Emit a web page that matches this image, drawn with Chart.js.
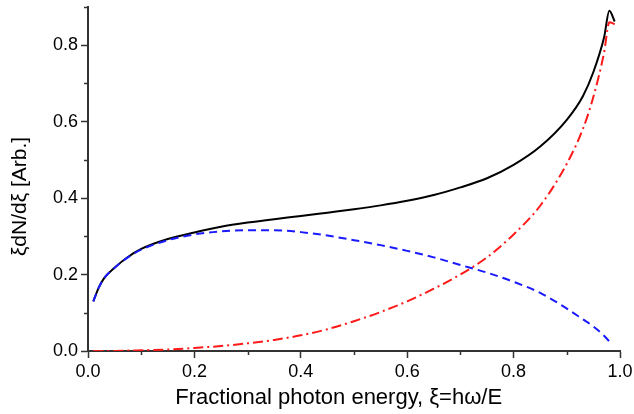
<!DOCTYPE html>
<html>
<head>
<meta charset="utf-8">
<script src="https://cdn.jsdelivr.net/npm/chart.js@4/dist/chart.umd.min.js"></script>
<style>
  html, body { margin: 0; padding: 0; background: #fff; }
  #wrap { width: 634px; height: 414px; }
</style>
</head>
<body>
<div id="wrap"><canvas id="spec"></canvas></div>
<script>
// photon energy fraction (x) and the three curves
const xi = [0.01, 0.02, 0.03, 0.05, 0.075, 0.1, 0.15, 0.2, 0.25, 0.3, 0.35, 0.4, 0.45, 0.5,
  0.55, 0.6, 0.65, 0.7, 0.75, 0.8, 0.85, 0.9, 0.93, 0.95, 0.97, 0.98, 0.99];
const totalVals = [0.13, 0.165, 0.19, 0.218, 0.246, 0.267, 0.293, 0.31, 0.325, 0.336, 0.345,
  0.353, 0.362, 0.371, 0.381, 0.393, 0.408, 0.428, 0.452, 0.487, 0.535, 0.605, 0.666, 0.73,
  0.82, 0.89, 0.862];
const blueVals = [0.13, 0.165, 0.19, 0.218, 0.245, 0.265, 0.29, 0.305, 0.313, 0.316, 0.316,
  0.311, 0.302, 0.29, 0.277, 0.262, 0.245, 0.225, 0.205, 0.181, 0.152, 0.111, 0.083, 0.064,
  0.04, 0.025, null];
const redVals = [0, 0, 0, 0.0003, 0.001, 0.002, 0.004, 0.008, 0.013, 0.02, 0.029, 0.041,
  0.057, 0.078, 0.102, 0.13, 0.163, 0.2, 0.245, 0.305, 0.38, 0.49, 0.58, 0.665, 0.78, 0.86, 0.855];

const xMinor = [0.1, 0.3, 0.5, 0.7, 0.9];
const yMinor = [0.1, 0.3, 0.5, 0.7, 0.9];

function pts(vals) {
  return xi.map((x, i) => ({ x: x, y: vals[i] }));
}

const axisColor = "#333333";

// Chart.js has no minor ticks, so draw the short ones from the scales
const minorTicks = {
  id: "minorTicks",
  afterDraw(chart) {
    const ctx = chart.ctx;
    const xs = chart.scales.x, ys = chart.scales.y;
    ctx.save();
    ctx.strokeStyle = axisColor;
    ctx.lineWidth = 1.5;
    ctx.beginPath();
    for (let v of xMinor) {
      const px = Math.round(xs.getPixelForValue(v)) + 0.5;
      ctx.moveTo(px, ys.bottom);
      ctx.lineTo(px, ys.bottom + 4);
    }
    for (let v of yMinor) {
      const py = Math.round(ys.getPixelForValue(v)) + 0.5;
      ctx.moveTo(xs.left, py);
      ctx.lineTo(xs.left - 4, py);
    }
    ctx.stroke();
    ctx.restore();
  },
};

new Chart(document.getElementById("spec"), {
  type: "line",
  plugins: [minorTicks],
  data: {
    datasets: [
      {
        data: pts(blueVals),
        borderColor: "#1a1aff",
        borderWidth: 2,
        borderDash: [8, 5],
        pointRadius: 0,
        cubicInterpolationMode: "monotone",
      },
      {
        data: pts(redVals),
        borderColor: "#ff1a1a",
        borderWidth: 2,
        borderDash: [10, 4, 2, 4],
        pointRadius: 0,
        cubicInterpolationMode: "monotone",
      },
      {
        data: pts(totalVals),
        borderColor: "#000000",
        borderWidth: 2,
        pointRadius: 0,
        cubicInterpolationMode: "monotone",
      },
    ],
  },
  options: {
    responsive: true,
    maintainAspectRatio: false,
    animation: false,
    layout: { padding: { top: 7, right: 14, left: 0, bottom: 0 } },
    plugins: {
      legend: { display: false },
      tooltip: { enabled: false },
    },
    scales: {
      x: {
        type: "linear",
        min: 0,
        max: 1,
        border: { color: axisColor, width: 2 },
        grid: { drawOnChartArea: false, tickLength: 7, tickColor: axisColor, tickWidth: 1.5 },
        ticks: {
          stepSize: 0.2,
          padding: 3,
          color: "#000",
          font: { family: "Liberation Sans, Arial", size: 18 },
          callback: (v) => v.toFixed(1),
        },
        title: {
          display: true,
          // trailing spaces nudge the centred title left, like the original
          text: "Fractional photon energy, ξ=hω/E     ",
          color: "#000",
          font: { family: "Liberation Sans, Arial", size: 22 },
          padding: { top: 0, bottom: 3 },
        },
        afterFit: (s) => { s.height = 63; s.paddingRight = 0; },
      },
      y: {
        min: 0,
        max: 0.9,
        border: { color: axisColor, width: 2 },
        grid: { drawOnChartArea: false, tickLength: 7, tickColor: axisColor, tickWidth: 1.5 },
        ticks: {
          stepSize: 0.2,
          includeBounds: false,
          padding: 3,
          color: "#000",
          font: { family: "Liberation Sans, Arial", size: 18 },
          callback: (v) => v.toFixed(1),
        },
        title: {
          display: true,
          text: "ξdN/dξ [Arb.]      ",
          color: "#000",
          font: { family: "Liberation Sans, Arial", size: 21 },
          padding: { top: 8, bottom: 0 },
        },
        afterFit: (s) => { s.width = 88; s.paddingTop = 0; s.paddingBottom = 0; },
      },
    },
  },
});
</script>
</body>
</html>
